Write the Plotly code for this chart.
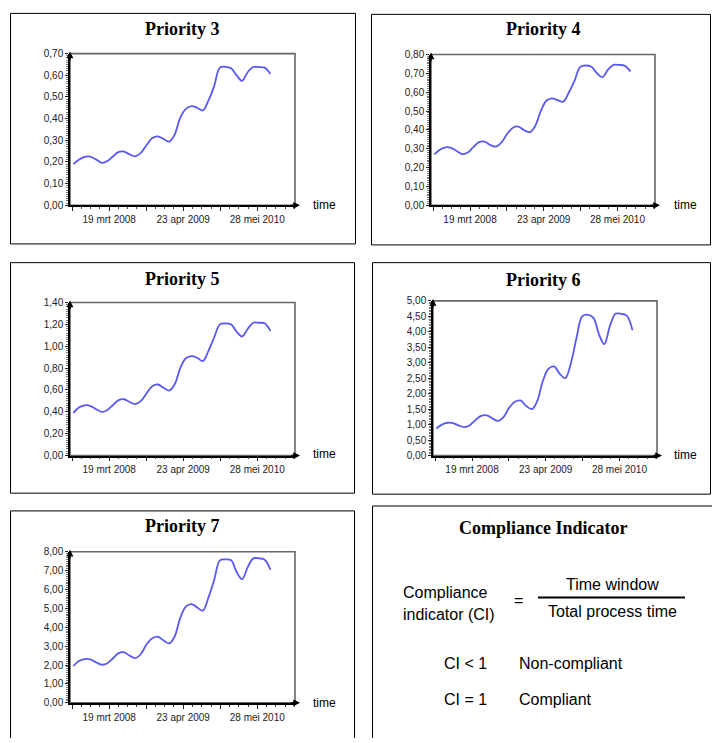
import plotly.graph_objects as go

W, H = 712, 743

# ---------------- data ----------------
dates = [f"{2007 + (8 + i) // 12}-{(8 + i) % 12 + 1:02d}-07" for i in range(36)]

p3 = [0.19, 0.21, 0.223, 0.225, 0.212, 0.196, 0.203, 0.225, 0.245, 0.248, 0.235, 0.226,
      0.243, 0.278, 0.31, 0.318, 0.306, 0.294, 0.325, 0.405, 0.445, 0.458, 0.45, 0.438,
      0.485, 0.55, 0.635, 0.639, 0.632, 0.598, 0.574, 0.615, 0.638, 0.638, 0.635, 0.606]
p4 = [0.27, 0.295, 0.308, 0.305, 0.288, 0.272, 0.28, 0.31, 0.335, 0.338, 0.32, 0.312,
      0.335, 0.38, 0.412, 0.418, 0.398, 0.388, 0.42, 0.5, 0.555, 0.568, 0.558, 0.55,
      0.6, 0.66, 0.735, 0.742, 0.735, 0.7, 0.68, 0.72, 0.745, 0.745, 0.74, 0.71]
p5 = [0.39, 0.44, 0.46, 0.455, 0.425, 0.40, 0.415, 0.46, 0.505, 0.515, 0.49, 0.47,
      0.5, 0.57, 0.635, 0.65, 0.62, 0.595, 0.65, 0.8, 0.89, 0.91, 0.895, 0.865,
      0.96, 1.08, 1.2, 1.21, 1.2, 1.13, 1.09, 1.16, 1.215, 1.215, 1.21, 1.14]
p6 = [0.87, 1.0, 1.06, 1.05, 0.97, 0.92, 0.98, 1.15, 1.28, 1.3, 1.2, 1.12,
      1.25, 1.55, 1.74, 1.78, 1.6, 1.5, 1.75, 2.4, 2.8, 2.88, 2.65, 2.5,
      3.0, 3.8, 4.5, 4.55, 4.45, 3.9, 3.6, 4.2, 4.58, 4.58, 4.52, 4.05]
p7 = [1.95, 2.22, 2.32, 2.3, 2.15, 2.02, 2.08, 2.35, 2.62, 2.68, 2.5, 2.37,
      2.6, 3.1, 3.42, 3.5, 3.3, 3.15, 3.5, 4.5, 5.1, 5.23, 5.05, 4.88,
      5.6, 6.5, 7.55, 7.6, 7.55, 6.9, 6.55, 7.2, 7.65, 7.65, 7.58, 7.05]

titles = ["Priority 3", "Priority 4", "Priority 5", "Priority 6", "Priority 7"]
series = [p3, p4, p5, p6, p7]
y_max = [0.70, 0.80, 1.40, 5.00, 8.00]
y_dtick = [0.1, 0.1, 0.2, 0.5, 1.0]

x_tick_vals = ["2007-09-01", "2008-03-19", "2008-10-05", "2009-04-23", "2009-11-09", "2010-05-28"]
x_tick_text = ["", "19 mrt 2008", "", "23 apr 2009", "", "28 mei 2010"]
x_range = ["2007-08-20", "2010-12-18"]

# ---------------- layout geometry (pixels) ----------------
plot_px = [  # x0, x1, ytop, ybottom
    (70, 295, 48.3, 202.3),
    (431, 655, 49.3, 202.3),
    (70, 295, 301, 456.3),
    (433, 657, 299.3, 456.3),
    (70, 295, 554, 707.3),
]
panel_lines = [
    [(10.5, 7.5), (355.5, 7.5), (355.5, 241.5), (10.5, 241.5), (10.5, 7.5)],
    [(371.5, 8.5), (710.5, 8.5), (710.5, 242.5), (371.5, 242.5), (371.5, 8.5)],
    [(10.5, 260.5), (354.5, 260.5), (354.5, 494.5), (10.5, 494.5), (10.5, 260.5)],
    [(372.5, 260.5), (710.5, 260.5), (710.5, 495.5), (372.5, 495.5), (372.5, 260.5)],
    [(10.5, 743), (10.5, 512.5), (354.5, 512.5), (354.5, 743)],
    [(372.5, 743), (372.5, 507.5), (712, 507.5)],
]
title_pos = [(182, 23), (543, 23), (182, 277), (543, 278), (182, 528)]
time_pos = [(311, 202), (672, 202), (311, 455), (672, 456), (311, 707)]

def px(x):
    return x / W

def py(y):
    return 1 - y / H

fig = go.Figure()
shapes = []
annotations = []
tick_font = dict(family="Liberation Sans, Arial, sans-serif", size=10, color="#222")
line_color = "#5858f2"

for i in range(5):
    n = "" if i == 0 else str(i + 1)
    xa, ya = "x" + n, "y" + n
    fig.add_trace(go.Scatter(
        x=dates, y=series[i], mode="lines", xaxis=xa, yaxis=ya,
        line=dict(color=line_color, width=1.8, shape="spline", smoothing=1.0),
        showlegend=False, hoverinfo="x+y"))
    x0, x1, yt, yb = plot_px[i]
    fig.layout["xaxis" + n] = dict(
        domain=[px(x0), px(x1)], anchor=ya, type="date", range=x_range,
        tickmode="array", tickvals=x_tick_vals, ticktext=x_tick_text,
        ticks="outside", ticklen=4, tickcolor="#222", tickwidth=1,
        minor=dict(ticks="outside", ticklen=2, tickcolor="#444",
                   dtick=50 * 86400000, tick0="2008-03-19"),
        showline=True, linecolor="black", linewidth=1.5,
        showgrid=False, zeroline=False, tickfont=tick_font, fixedrange=True)
    fig.layout["yaxis" + n] = dict(
        domain=[py(yb), py(yt)], anchor=xa, range=[0, y_max[i]],
        tickmode="linear", tick0=0, dtick=y_dtick[i], tickformat=".2f",
        ticks="outside", ticklen=3, tickcolor="#222",
        minor=dict(ticks="outside", ticklen=2, tickcolor="#777",
                   dtick=y_dtick[i] / 10),
        showline=True, linecolor="black", linewidth=1.5,
        showgrid=False, zeroline=False, tickfont=tick_font, fixedrange=True)
    shapes.append(dict(type="rect", xref=xa + " domain", yref=ya + " domain",
                       x0=0, x1=1, y0=0, y1=1, line=dict(color="#666", width=1.6),
                       layer="below"))
    ext = 5 / (x1 - x0)
    annotations.append(dict(xref=xa + " domain", yref=ya + " domain", x=1 + ext, y=0,
                            ax=-10, ay=0, axref="pixel", ayref="pixel", text="",
                            showarrow=True, arrowhead=2, arrowsize=0.9, arrowwidth=1.5,
                            arrowcolor="black"))
    annotations.append(dict(xref=xa + " domain", yref=ya + " domain", x=0, y=1 + 2 / (yb - yt),
                            ax=0, ay=10, axref="pixel", ayref="pixel", text="",
                            showarrow=True, arrowhead=2, arrowsize=0.9, arrowwidth=1.5,
                            arrowcolor="black"))
    tx, ty = title_pos[i]
    annotations.append(dict(xref="paper", yref="paper", x=px(tx), y=py(ty),
                            text="<b>" + titles[i] + "</b>", showarrow=False,
                            xanchor="center", yanchor="middle",
                            font=dict(family="Liberation Serif, Times New Roman, serif",
                                      size=18, color="black")))
    tx, ty = time_pos[i]
    annotations.append(dict(xref="paper", yref="paper", x=px(tx), y=py(ty),
                            text="time", showarrow=False, xanchor="left", yanchor="middle",
                            font=dict(family="Liberation Sans, Arial, sans-serif",
                                      size=12, color="black")))

for pts in panel_lines:
    for a, b in zip(pts[:-1], pts[1:]):
        shapes.append(dict(type="line", xref="paper", yref="paper",
                           x0=px(a[0]), y0=py(a[1]), x1=px(b[0]), y1=py(b[1]),
                           line=dict(color="black", width=1), layer="below"))

# ---------------- compliance indicator panel ----------------
sans = "Liberation Sans, Arial, sans-serif"
ci_texts = [
    (543, 530, "<b>Compliance Indicator</b>", "center",
     dict(family="Liberation Serif, Times New Roman, serif", size=18, color="black")),
    (401, 595, "Compliance", "left", dict(family=sans, size=16, color="black")),
    (401, 618, "indicator (CI)", "left", dict(family=sans, size=16, color="black")),
    (518, 603, "=", "center", dict(family=sans, size=16, color="black")),
    (612, 587, "Time window", "center", dict(family=sans, size=16, color="black")),
    (612, 615, "Total process time", "center", dict(family=sans, size=16, color="black")),
    (442, 667, "CI &lt; 1", "left", dict(family=sans, size=16, color="black")),
    (517, 667, "Non-compliant", "left", dict(family=sans, size=16, color="black")),
    (442, 704, "CI = 1", "left", dict(family=sans, size=16, color="black")),
    (517, 704, "Compliant", "left", dict(family=sans, size=16, color="black")),
]
for (tx, ty, t, anc, f) in ci_texts:
    annotations.append(dict(xref="paper", yref="paper", x=px(tx), y=py(ty), text=t,
                            showarrow=False, xanchor=anc, yanchor="middle", font=f))
shapes.append(dict(type="line", xref="paper", yref="paper", x0=px(538), x1=px(685),
                   y0=py(600.5), y1=py(600.5), line=dict(color="black", width=2)))

fig.update_layout(
    width=W, height=H, autosize=False,
    margin=dict(l=0, r=0, t=0, b=0),
    paper_bgcolor="white", plot_bgcolor="rgba(0,0,0,0)",
    separators=",.", showlegend=False,
    shapes=shapes, annotations=annotations,
)

post = (
    "var d=document.documentElement,b=document.body;"
    "d.style.margin='0';d.style.padding='0';d.style.overflow='hidden';d.style.height='743px';"
    "b.style.margin='0';b.style.padding='0';b.style.overflow='hidden';b.style.height='743px';"
    "var g=document.getElementById('{plot_id}');"
    "g.style.position='absolute';g.style.left='0px';g.style.top='0px';"
)
fig.write_html("out.html", config={"displayModeBar": False}, post_script=post)
